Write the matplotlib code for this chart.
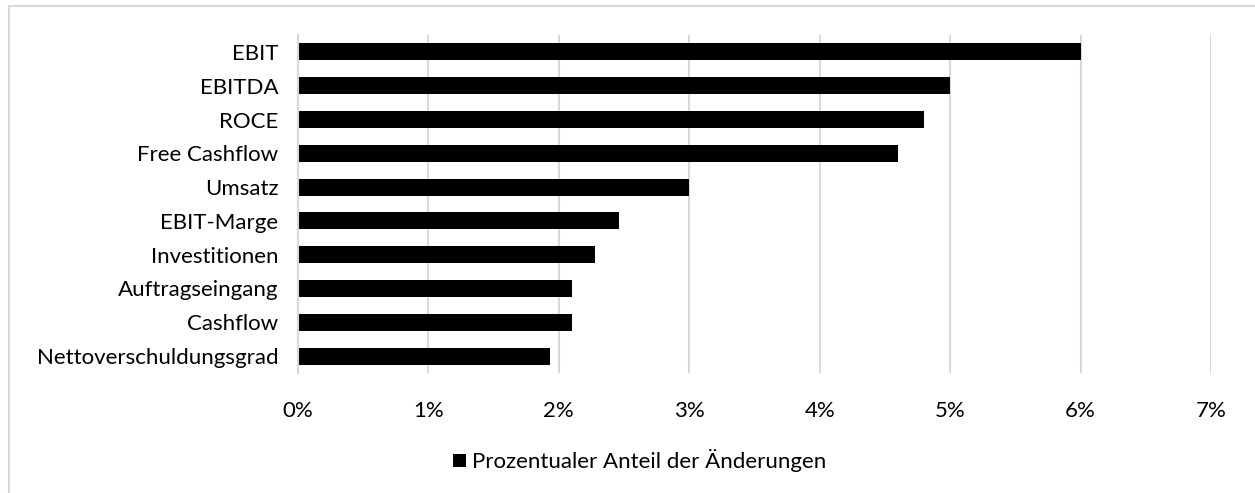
import matplotlib.pyplot as plt
from matplotlib.lines import Line2D
from matplotlib.ticker import FuncFormatter

categories = ['EBIT', 'EBITDA', 'ROCE', 'Free Cashflow', 'Umsatz', 'EBIT-Marge',
              'Investitionen', 'Auftragseingang', 'Cashflow', 'Nettoverschuldungsgrad']
values = [6.0, 5.0, 4.8, 4.6, 3.0, 2.46, 2.28, 2.1, 2.1, 1.93]
series_name = 'Prozentualer Anteil der Änderungen'
x_ticks = [0, 1, 2, 3, 4, 5, 6, 7]

plt.rcParams['font.family'] = ['Lato', 'DejaVu Sans']

W, H = 1255, 493
fig = plt.figure(figsize=(W / 100, H / 100), dpi=100)
ax = fig.add_axes([298 / W, 1 - 373 / H, (1211 - 298) / W, (373 - 35) / H])

y = list(range(len(categories)))[::-1]
bars = ax.barh(y, values, height=0.5, color='black', label=series_name)

ax.set_xlim(0, 7)
ax.set_ylim(-0.5, len(categories) - 0.5)
ax.set_xticks(x_ticks)
ax.xaxis.set_major_formatter(FuncFormatter(lambda v, p: f'{int(v)}%'))
ax.set_yticks(y)
ax.set_yticklabels(categories)
ax.tick_params(axis='both', length=0, labelsize=16, colors='black')
ax.tick_params(axis='x', pad=20)
ax.tick_params(axis='y', pad=14)
ax.grid(axis='x', color='#d9d9d9', linewidth=1.5)
ax.set_axisbelow(True)
for s in ['top', 'right', 'bottom']:
    ax.spines[s].set_visible(False)
ax.spines['left'].set_color('#d9d9d9')
ax.spines['left'].set_linewidth(1.5)

fig.legend(handles=[bars], labels=[series_name], loc='center',
           bbox_to_anchor=(640 / W, 1 - 461 / H), frameon=False,
           fontsize=16, handlelength=0.55, handleheight=0.55, handletextpad=0.3)

# outer chart border: only top and left edges are visible in the crop
border = dict(transform=fig.transFigure, color='#d9d9d9', linewidth=1.5)
fig.lines.append(Line2D([9 / W, 1], [1 - 6 / H, 1 - 6 / H], **border))
fig.lines.append(Line2D([9 / W, 9 / W], [0, 1 - 6 / H], **border))

fig.savefig('out.png', dpi=100, facecolor='white')
